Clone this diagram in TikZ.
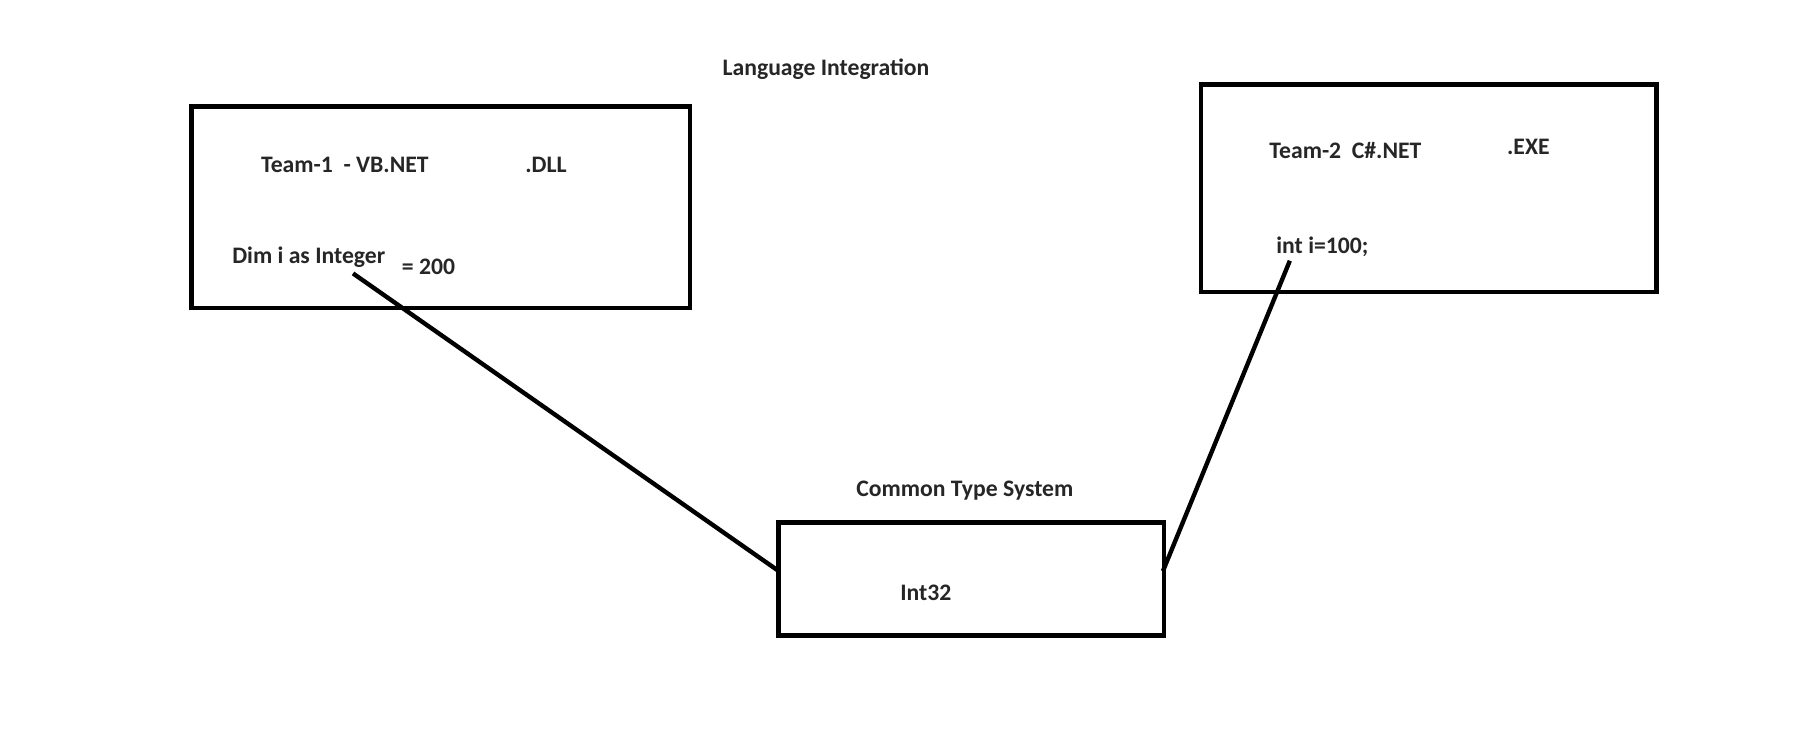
\documentclass[tikz,border=0pt]{standalone}
\usepackage{fontspec}
\setmainfont{Carlito}
\begin{document}
\begin{tikzpicture}[x=0.58pt,y=-0.58pt,
  lbl/.style={anchor=west,inner sep=0pt,font=\bfseries\fontsize{11.9}{13}\selectfont,text=black!85,text height=0.64em,text depth=0pt},
  frame/.style={draw=black,line width=2.4pt,inner sep=0pt},
  conn/.style={draw=black,line width=2.2pt}]
\useasboundingbox[fill=white] (0,0) rectangle (1568,646.6);
\node[frame,minimum width=432*0.58pt,minimum height=175*0.58pt] (box1) at (382,179.5) {};
\node[frame,minimum width=395*0.58pt,minimum height=180*0.58pt] (box2) at (1238.5,163) {};
\node[frame,minimum width=334*0.58pt,minimum height=98*0.58pt] (box3) at (842,502) {};
\node[lbl] (title) at (626,60) {Language Integration};
\node[lbl] (t1) at (226,144) {Team-1\ \ - VB.NET};
\node[lbl] (dll) at (455,144) {.DLL};
\node[lbl] (dim) at (201,223) {Dim i as Integer};
\node[lbl] (eq) at (348,232) {= 200};
\node[lbl] (t2) at (1100,132) {Team-2\ \ C\#.NET};
\node[lbl] (exe) at (1306,128) {.EXE};
\node[lbl] (inti) at (1106,214) {int i=100;};
\node[lbl] (cts) at (742,425) {Common Type System};
\node[lbl] (i32) at (780,515) {Int32};
\coordinate (a1) at (306,237);
\coordinate (a2) at (675,495);
\coordinate (b1) at (1118,226);
\coordinate (b2) at (1008,495);
\draw[conn] (a1) -- (a2);
\draw[conn] (b1) -- (b2);
\end{tikzpicture}
\end{document}
